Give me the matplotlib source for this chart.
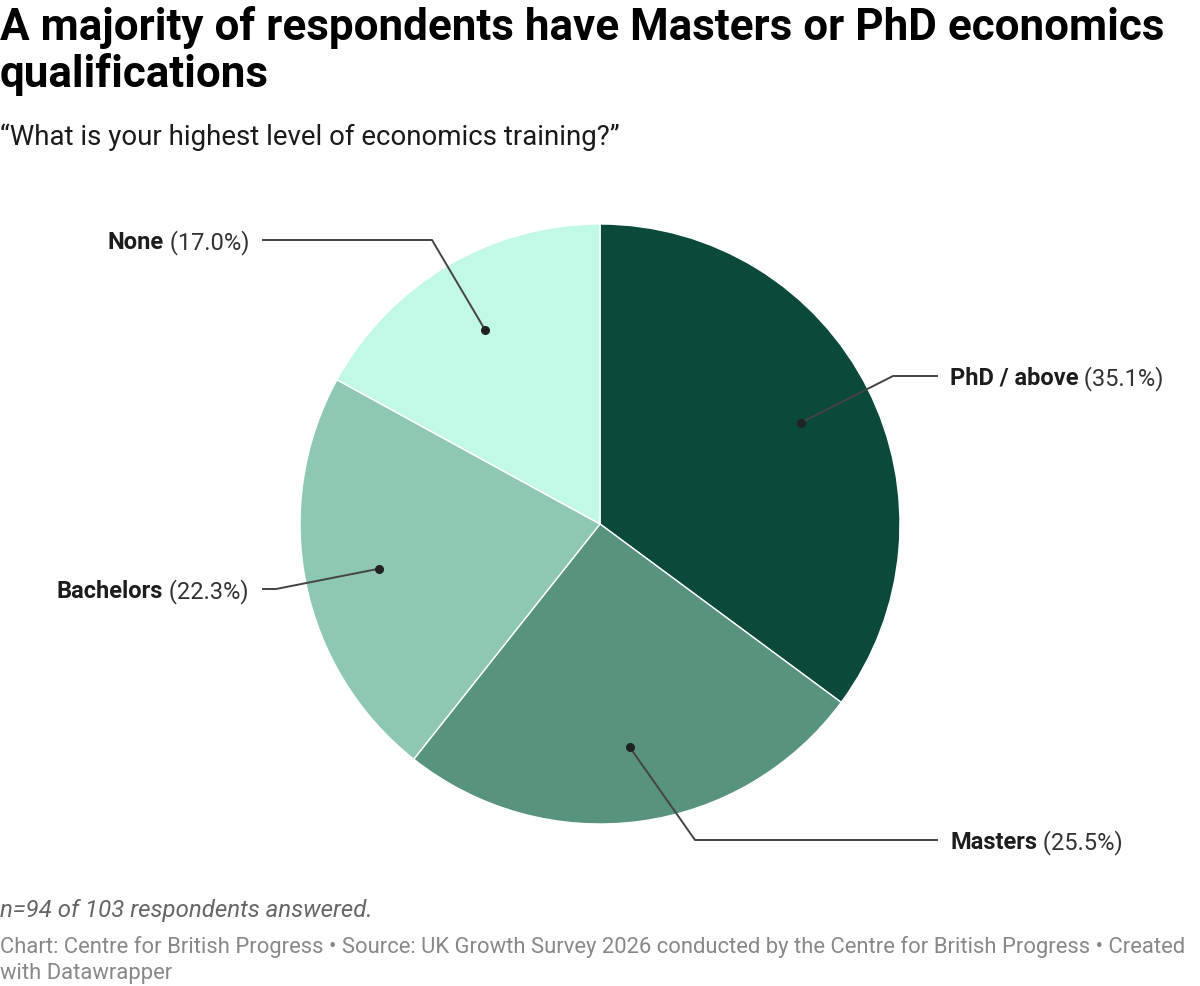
import numpy as np
import matplotlib
matplotlib.use("Agg")
import matplotlib.pyplot as plt

plt.rcParams['font.family'] = ['Roboto', 'DejaVu Sans']

# data
categories = ["PhD / above", "Masters", "Bachelors", "None"]
shares = [35.1, 25.5, 22.3, 17.0]
colors = ["#0b4a3b", "#57937d", "#8ec8b2", "#c2f8e6"]

title_lines = ["A majority of respondents have Masters or PhD economics",
               "qualifications"]
subtitle = "\u201cWhat is your highest level of economics training?\u201d"
note = "n=94 of 103 respondents answered."
credit_lines = ["Chart: Centre for British Progress \u2022 Source: UK Growth Survey 2026 "
                "conducted by the Centre for British Progress \u2022 Created",
                "with Datawrapper"]

W, H = 1200, 986
fig = plt.figure(figsize=(W / 100, H / 100), dpi=100)
fig.patch.set_facecolor("white")


def fx(px):
    return px / W


def fy(py):
    return 1 - py / H


def fs(px):
    return px * 0.72


# pie axes: centre (600, 524), radius 300 px
cx, cy, r = 600, 524, 300
ax = fig.add_axes([fx(cx - r), fy(cy + r), 2 * r / W, 2 * r / H])
wedges, _ = ax.pie(shares, colors=colors, startangle=90, counterclock=False,
                   radius=1, wedgeprops=dict(edgecolor="white", linewidth=1))
ax.set_xlim(-1, 1)
ax.set_ylim(-1, 1)
ax.set_aspect("equal")
ax.axis("off")

# label layout: (elbow x, elbow y, end x, text x, align) in pixels
layout = {
    "PhD / above": (893, 376, 938, 950, "left"),
    "Masters": (695, 840, 938, 950, "left"),
    "Bachelors": (276, 589, 262, 249, "right"),
    "None": (432, 240, 262, 249, "right"),
}

label_px = 23.6
total = sum(shares)
start = 0.0
for cat, val in zip(categories, shares):
    mid = (start + val / 2) / total * 2 * np.pi
    start += val
    dx, dy = 0.75 * np.sin(mid), 0.75 * np.cos(mid)
    ex, ey, endx, tx, ha = layout[cat]
    exd, eyd = (ex - cx) / r, (cy - ey) / r
    endd = (endx - cx) / r
    ax.plot([dx, exd, endd], [dy, eyd, eyd], color="#444444", lw=1.4,
            clip_on=False, solid_capstyle="butt")
    ax.plot(dx, dy, "o", color="#222222", ms=5.5, clip_on=False)
    pct = f" ({val:.1f}%)"
    if ha == "left":
        t = fig.text(fx(tx), fy(ey), cat, fontsize=fs(label_px), fontweight="bold",
                     color="#1d1d1d", ha="left", va="center_baseline")
        fig.canvas.draw()
        bb = t.get_window_extent()
        fig.text(bb.x1 / W, fy(ey), pct, fontsize=fs(label_px), color="#333333",
                 ha="left", va="center_baseline")
    else:
        t = fig.text(fx(tx), fy(ey), pct, fontsize=fs(label_px), color="#333333",
                     ha="right", va="center_baseline")
        fig.canvas.draw()
        bb = t.get_window_extent()
        fig.text(bb.x0 / W, fy(ey), cat, fontsize=fs(label_px), fontweight="bold",
                 color="#1d1d1d", ha="right", va="center_baseline")

# titles
for line, base in zip(title_lines, [40, 87]):
    fig.text(0, fy(base), line, fontsize=fs(44), fontweight="bold",
             color="#000000", ha="left", va="baseline")
fig.text(0, fy(145), subtitle, fontsize=fs(27.6), color="#1a1a1a",
         ha="left", va="baseline")

# footer
fig.text(0, fy(917), note, fontsize=fs(24), style="italic", color="#666666",
         ha="left", va="baseline")
for line, base in zip(credit_lines, [953, 979]):
    fig.text(0, fy(base), line, fontsize=fs(22), color="#888888",
             ha="left", va="baseline")

fig.savefig("out.png", dpi=100, facecolor="white")
